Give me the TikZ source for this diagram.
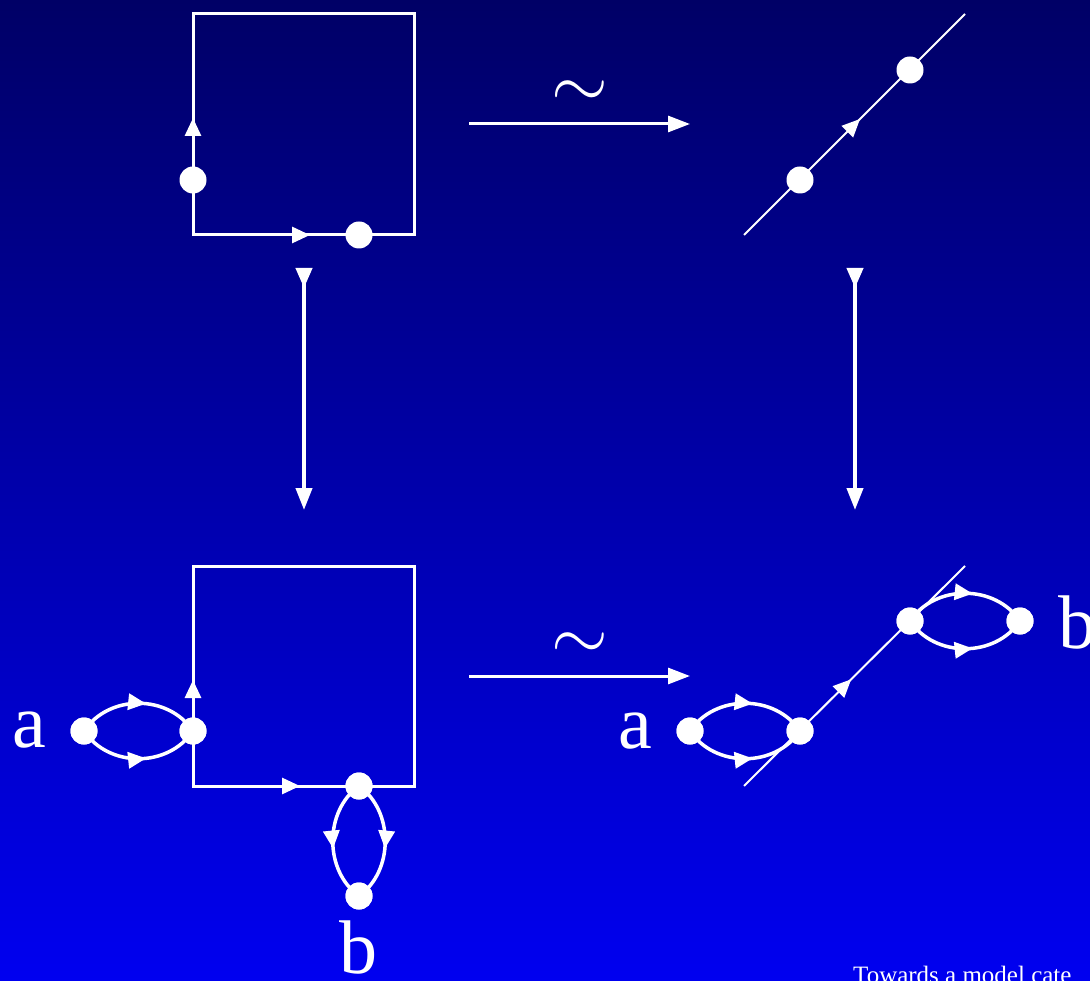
\documentclass[tikz,border=0pt]{standalone}
\usepackage{fontspec}
\setmainfont{Liberation Serif}
\usetikzlibrary{arrows.meta,decorations.markings}
\definecolor{bgtop}{RGB}{0,0,102}
\definecolor{bgbot}{RGB}{0,0,240}
\begin{document}
\begin{tikzpicture}[x=1pt,y=-1pt,
  dot/.style={circle,fill=white,draw=none,inner sep=0pt,minimum size=27pt},
  sq/.style={draw=white,line width=3pt,line join=miter},
  diag/.style={draw=white,line width=2pt},
  arcline/.style={draw=white,line width=3.5pt},
  harrow/.style={draw=white,line width=3pt,-{Triangle[length=22pt,width=16pt]}},
  varrow/.style={draw=white,line width=4pt,{Triangle[reversed,length=20pt,width=16pt]}-{Triangle[length=22pt,width=16pt]}},
  markat/.style={postaction={decorate},decoration={markings,mark=at position #1 with {\arrow[white]{Triangle[length=18pt,width=16pt]}}}},
  lbl/.style={text=white,font=\fontsize{76}{80}\selectfont,inner sep=0pt,anchor=base},
  tildelbl/.style={text=white,inner sep=0pt}
]
\useasboundingbox (0,0) rectangle (1090,981);
\clip (0,0) rectangle (1090,981);
\shade[top color=bgtop,bottom color=bgbot] (0,0) rectangle (1090,981);

% ---------- top-left square ----------
\coordinate (q1bl) at (193,235);
\coordinate (q1tl) at (193,14);
\coordinate (q1tr) at (414,14);
\coordinate (q1br) at (414,235);
\path[sq] (q1bl) -- (q1br) -- (q1tr) -- (q1tl) -- cycle;
\path[sq,markat=117pt] (q1bl) -- (q1tl);
\path[sq,markat=117pt] (q1bl) -- (q1br);
\node[dot] (p1) at (193,180) {};
\node[dot] (p2) at (359,235) {};

% ---------- top arrow ----------
\coordinate (h1a) at (469,124);
\coordinate (h1b) at (690,124);
\path[harrow] (h1a) -- (h1b);
\node[tildelbl] (t1) at (579.5,94) {\scalebox{7.3}{$\sim$}};

% ---------- top-right diagonal ----------
\coordinate (d1a) at (744,235);
\coordinate (d1b) at (965,14);
\path[diag,markat=0.525] (d1a) -- (d1b);
\node[dot] (r1) at (800,180) {};
\node[dot] (r2) at (910,70) {};

% ---------- vertical arrows ----------
\coordinate (v1a) at (304,268);
\coordinate (v1b) at (304,510);
\coordinate (v2a) at (855,268);
\coordinate (v2b) at (855,510);
\path[varrow] (v1a) -- (v1b);
\path[varrow] (v2a) -- (v2b);

% ---------- bottom-left square ----------
\coordinate (q2bl) at (193,786);
\coordinate (q2tl) at (193,566);
\coordinate (q2tr) at (414,566);
\coordinate (q2br) at (414,786);
\path[sq] (q2bl) -- (q2br) -- (q2tr) -- (q2tl) -- cycle;
\path[sq,markat=106pt] (q2bl) -- (q2tl);
\path[sq,markat=107pt] (q2bl) -- (q2br);
\node[dot] (s1) at (193,731) {};
\node[dot] (s2) at (359,786) {};
\node[dot] (sa) at (84,731) {};
\node[dot] (sb) at (359,896) {};
\path[arcline,markat=0.56] (sa.center) .. controls +(25,-37) and +(-25,-37) .. (s1.center);
\path[arcline,markat=0.56] (sa.center) .. controls +(25,37) and +(-25,37) .. (s1.center);
\path[arcline,markat=0.56] (s2.center) .. controls +(-35,25) and +(-35,-25) .. (sb.center);
\path[arcline,markat=0.56] (s2.center) .. controls +(35,25) and +(35,-25) .. (sb.center);
\node[dot] at (s1) {};
\node[dot] at (s2) {};
\node[dot] at (sa) {};
\node[dot] at (sb) {};
\node[lbl] (la1) at (29,747) {a};
\node[lbl] (lb1) at (358,973) {b};

% ---------- bottom arrow ----------
\coordinate (h2a) at (469,676);
\coordinate (h2b) at (690,676);
\path[harrow] (h2a) -- (h2b);
\node[tildelbl] (t2) at (579.5,646) {\scalebox{7.3}{$\sim$}};

% ---------- bottom-right diagonal ----------
\coordinate (d2a) at (744,786);
\coordinate (d2b) at (965,566);
\path[diag,markat=0.485] (d2a) -- (d2b);
\node[dot] (u1) at (800,731) {};
\node[dot] (u2) at (910,621) {};
\node[dot] (ua) at (690,731) {};
\node[dot] (ub) at (1020,621) {};
\path[arcline,markat=0.56] (ua.center) .. controls +(25,-37) and +(-25,-37) .. (u1.center);
\path[arcline,markat=0.56] (ua.center) .. controls +(25,37) and +(-25,37) .. (u1.center);
\path[arcline,markat=0.56] (u2.center) .. controls +(25,-37) and +(-25,-37) .. (ub.center);
\path[arcline,markat=0.56] (u2.center) .. controls +(25,37) and +(-25,37) .. (ub.center);
\node[dot] at (u1) {};
\node[dot] at (u2) {};
\node[dot] at (ua) {};
\node[dot] at (ub) {};
\node[lbl] (la2) at (635,748) {a};
\node[lbl,anchor=base west] (lb2) at (1058,648) {b};

% ---------- footer ----------
\node[text=white,font=\fontsize{25}{30}\selectfont,anchor=base west,inner sep=0pt] (foot) at (853,983.5) {Towards a model cate};
\end{tikzpicture}
\end{document}
